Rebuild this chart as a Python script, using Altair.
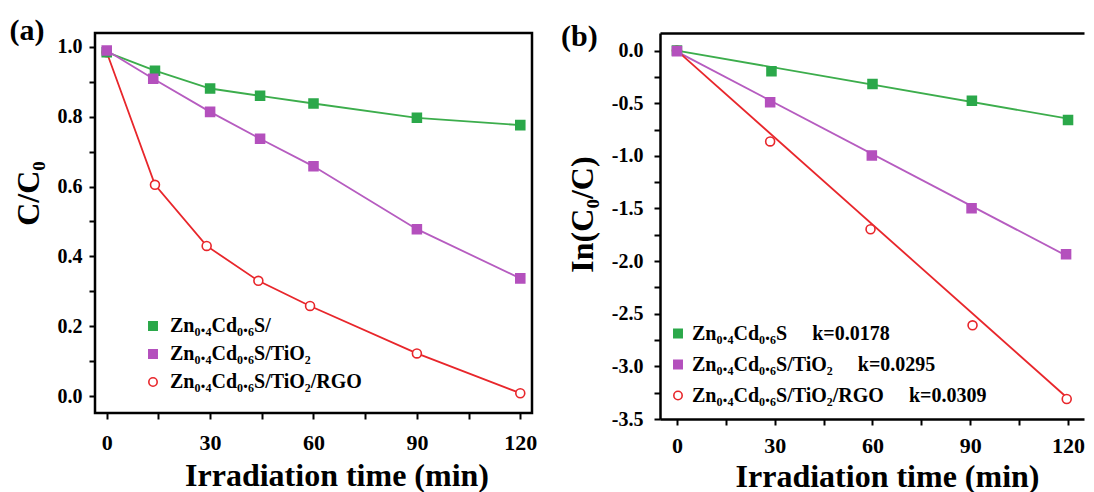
import altair as alt
import pandas as pd

FONT = "Liberation Serif"

# ---------------- data: panel (a) C/C0 vs time ----------------
series_a = ["Zn₀.₄Cd₀.₆S/", "Zn₀.₄Cd₀.₆S/TiO₂", "Zn₀.₄Cd₀.₆S/TiO₂/RGO"]
t_a_green = [0, 14, 30, 44.5, 60, 90, 120]
c_a_green = [0.985, 0.932, 0.881, 0.860, 0.838, 0.797, 0.776]
t_a_purple = [0, 13.5, 30, 44.5, 60, 90, 120]
c_a_purple = [0.99, 0.909, 0.814, 0.737, 0.658, 0.478, 0.337]
t_a_red = [0, 14, 29, 44, 59, 90, 120]
c_a_red = [0.985, 0.605, 0.430, 0.330, 0.258, 0.122, 0.008]

# ---------------- data: panel (b) ln(C0/C) vs time ----------------
k_labels = ["k=0.0178", "k=0.0295", "k=0.0309"]
series_b_names = ["Zn₀.₄Cd₀.₆S", "Zn₀.₄Cd₀.₆S/TiO₂", "Zn₀.₄Cd₀.₆S/TiO₂/RGO"]
t_b_green = [0, 29, 60, 90.5, 120]
v_b_green = [0.0, -0.197, -0.318, -0.476, -0.660]
t_b_purple = [0, 28.6, 59.8, 90.4, 119.4]
v_b_purple = [-0.005, -0.490, -0.996, -1.497, -1.935]
t_b_red = [0, 28.6, 59.4, 90.7, 119.6]
v_b_red = [0.0, -0.863, -1.697, -2.610, -3.310]
# fitted straight lines (start/end values)
fit_t = [0, 120]
fit_green = [0.0, -0.647]
fit_purple = [-0.01, -1.957]
fit_red = [0.0, -3.305]

GREEN, PURPLE, RED = "#2ba84a", "#b450bd", "#e8262b"
LINE_GREEN, LINE_PURPLE, LINE_RED = "#3cad4c", "#b65cc0", "#e8262b"

NB = "\u00a0"
series_b = [series_b_names[0] + NB * 5 + k_labels[0],
            series_b_names[1] + NB * 5 + k_labels[1],
            series_b_names[2] + NB * 5 + k_labels[2]]


def pts(times, vals, name):
    return pd.DataFrame({"t": times, "v": vals, "series": name})


def panel(series, pt_lists, line_lists, xdom, ydom, w, h, yvals, ylabel_expr,
          ytitle, ytitle_x, ytitle_y, xtitle_x, xtitle_y, xlabpad, ylabpad,
          legx, legy, legrow, leglaboff, tag, tagx, tagy, framed):
    xs = alt.Scale(domain=xdom, nice=False, zero=False)
    ys = alt.Scale(domain=ydom, nice=False, zero=False)
    dom = {} if framed else dict(domain=True, domainColor="black", domainWidth=2.5)
    xax = alt.Axis(values=list(range(0, 121, 15)),
                   labelExpr="datum.value % 30 == 0 ? datum.label : ''",
                   title="Irradiation time (min)", titleX=xtitle_x, titleY=xtitle_y,
                   titleBaseline="alphabetic", titleAlign="center",
                   labelPadding=xlabpad, labelFontSize=22, grid=False, **dom)
    yax = alt.Axis(values=yvals, labelExpr=ylabel_expr, title=ytitle,
                   titleX=ytitle_x, titleY=ytitle_y, titleAngle=270,
                   titleBaseline="alphabetic", titleAlign="center",
                   labelPadding=ylabpad, labelFontSize=20, grid=False, **dom)
    X = alt.X("t:Q", scale=xs, axis=xax)
    Y = alt.Y("v:Q", scale=ys, axis=yax)
    layers = []
    colors_line = [LINE_GREEN, LINE_PURPLE, LINE_RED]
    for i, df in enumerate(line_lists):
        layers.append(alt.Chart(df).mark_line(color=colors_line[i], strokeWidth=1.8).encode(x=X, y=Y))
    pdf = pd.concat([pt_lists[2], pt_lists[0], pt_lists[1]], ignore_index=True)
    leg = alt.Legend(orient="none", legendX=legx, legendY=legy, title=None,
                     labelFont=FONT, labelFontSize=20, labelFontWeight="bold",
                     labelColor="black", labelLimit=600, labelOffset=leglaboff,
                     rowPadding=legrow, padding=0, symbolSize=70,
                     symbolStrokeWidth=1.6)
    layers.append(
        alt.Chart(pdf).mark_point(size=80, strokeWidth=1.6, opacity=1).encode(
            x=X, y=Y,
            color=alt.Color("series:N", scale=alt.Scale(domain=series, range=[GREEN, PURPLE, RED]), legend=leg),
            fill=alt.Fill("series:N", scale=alt.Scale(domain=series, range=[GREEN, PURPLE, "white"]), legend=leg),
            shape=alt.Shape("series:N", scale=alt.Scale(domain=series, range=["square", "square", "circle"]), legend=leg),
        )
    )
    layers.append(
        alt.Chart(pd.DataFrame({"lab": [tag]})).mark_text(
            align="left", baseline="alphabetic", font=FONT, fontSize=30,
            fontWeight="bold", color="black").encode(
            text="lab:N", x=alt.value(tagx), y=alt.value(tagy))
    )
    inner = alt.layer(*layers)
    if framed:
        return inner.properties(width=w, height=h)
    top_ax = alt.Axis(orient="top", labels=False, ticks=False, title=None, grid=False,
                      domain=True, domainColor="black", domainWidth=2.5)
    top_layer = alt.Chart(pd.DataFrame({"t": [xdom[0]]})).mark_point(opacity=0).encode(
        x=alt.X("t:Q", scale=xs, axis=top_ax))
    return alt.layer(inner, top_layer).resolve_axis(x="independent").properties(
        width=w, height=h, view=alt.ViewBackground(stroke="transparent"))


pa = [pts(t_a_green, c_a_green, series_a[0]),
      pts(t_a_purple, c_a_purple, series_a[1]),
      pts(t_a_red, c_a_red, series_a[2])]
chart_a = panel(
    series_a, pa, pa, [-3.4, 123.4], [-0.0487, 1.04], 437, 380,
    [round(i * 0.1, 1) for i in range(0, 11)],
    "round(datum.value*10) % 2 == 0 ? format(datum.value, '.1f') : ''",
    "C/C₀", -57, 160, 241.5, 72, 13, 7,
    48, 283, 8, 7, "(a)", -85.5, 7, True)

pb = [pts(t_b_green, v_b_green, series_b[0]),
      pts(t_b_purple, v_b_purple, series_b[1]),
      pts(t_b_red, v_b_red, series_b[2])]
lb = [pts(fit_t, fit_green, series_b[0]),
      pts(fit_t, fit_purple, series_b[1]),
      pts(fit_t, fit_red, series_b[2])]
chart_b = panel(
    series_b, pb, lb, [-5.2, 124.9], [-3.5, 0.167], 424, 386,
    [-0.25 * i for i in range(0, 15)],
    "round(datum.value*4) % 2 == 0 ? (datum.value < 0 ? '-' + format(-datum.value, '.1f') : format(datum.value, '.1f')) : ''",
    "In(C₀/C)", -68, 181, 227, 67, 10, 11,
    8, 290.5, 11, 4, "(b)", -99, 13, False)

chart = alt.hconcat(chart_a, chart_b, spacing=128, bounds="flush").resolve_scale(
    color="independent", fill="independent", shape="independent"
).resolve_legend(color="independent", fill="independent", shape="independent").properties(
    padding={"left": 0, "top": 6, "right": 0, "bottom": 0}
).configure_view(stroke="black", strokeWidth=2.5).configure_axis(
    labelFont=FONT, labelFontWeight="bold", labelColor="black",
    titleFont=FONT, titleFontSize=32, titleFontWeight="bold", titleColor="black",
    tickColor="black", tickWidth=2, tickSize=6, domain=False
)

chart.save("out.html", embed_options={"renderer": "svg", "actions": False})
